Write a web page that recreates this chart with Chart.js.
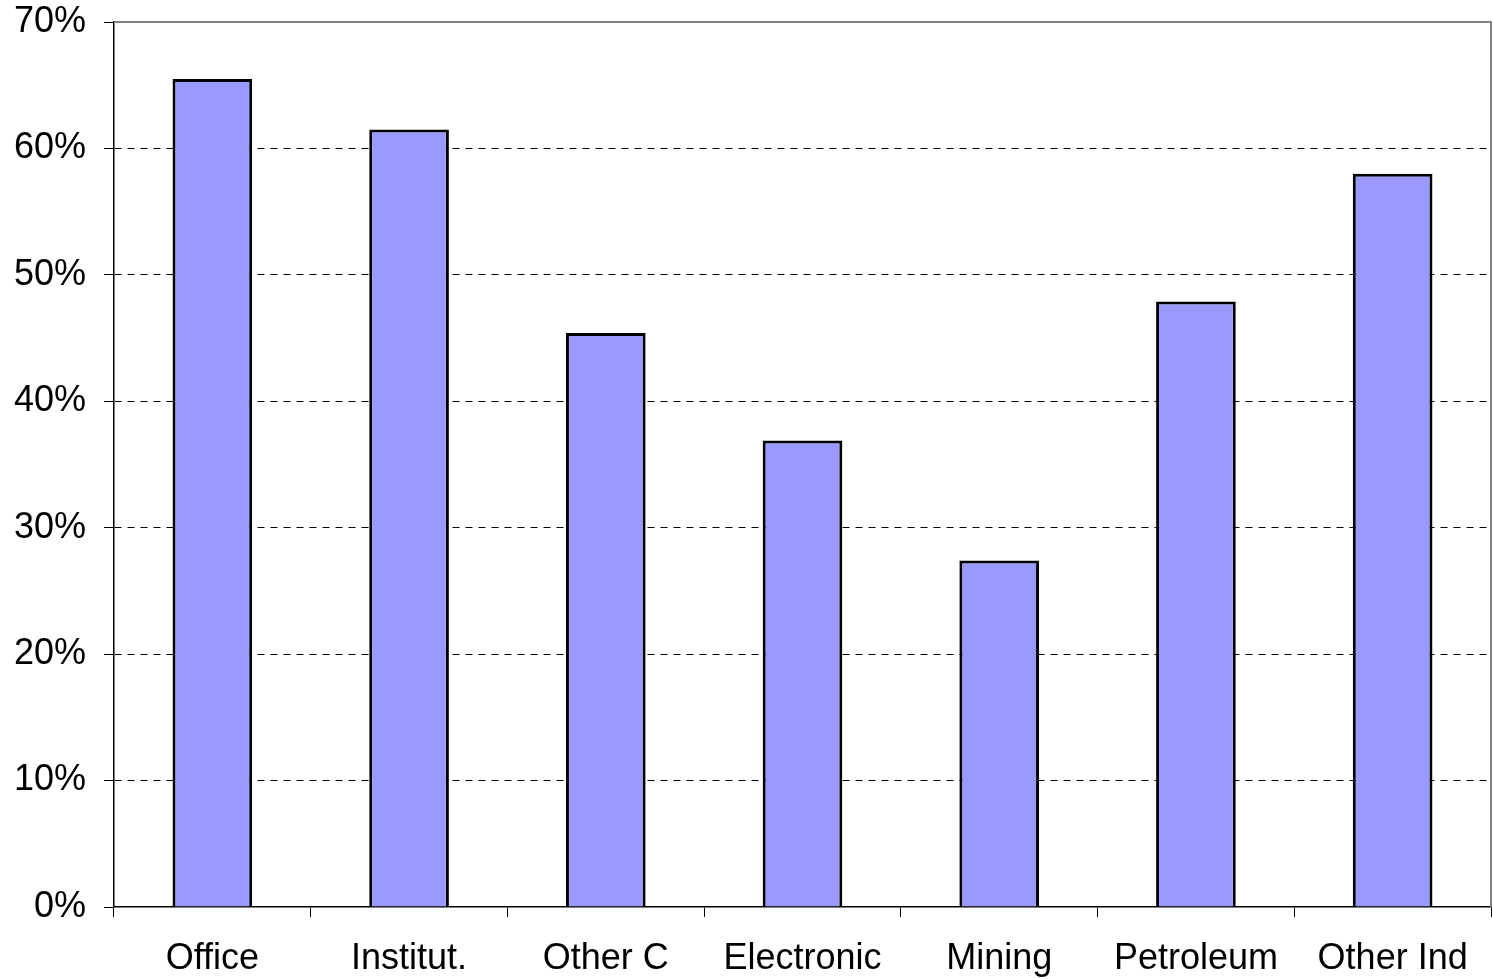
<!DOCTYPE html>
<html>
<head>
<meta charset="utf-8">
<style>
  html, body { margin: 0; padding: 0; background: #ffffff; }
  #wrap { width: 1493px; height: 979px; }
</style>
<script src="https://cdn.jsdelivr.net/npm/chart.js@4/dist/chart.umd.min.js"></script>
</head>
<body>
<div id="wrap"><canvas id="c" width="1493" height="979"></canvas></div>
<script>
const categories = ['Office', 'Institut.', 'Other C', 'Electronic', 'Mining', 'Petroleum', 'Other Ind'];
const shares = [65.5, 61.5, 45.4, 36.9, 27.4, 47.9, 58.0];
const yMin = 0, yMax = 70, yStep = 10;

// gray frame along the top and right of the plot area
const framePlugin = {
  id: 'frame',
  afterDraw(chart) {
    const { ctx, chartArea: a } = chart;
    ctx.save();
    ctx.strokeStyle = '#808080';
    ctx.lineWidth = 2;
    ctx.beginPath();
    ctx.moveTo(a.left, a.top);
    ctx.lineTo(a.right, a.top);
    ctx.lineTo(a.right, a.bottom);
    ctx.stroke();
    ctx.restore();
  }
};

new Chart(document.getElementById('c'), {
  type: 'bar',
  data: {
    labels: categories,
    datasets: [{
      data: shares,
      backgroundColor: '#9999FF',
      borderColor: '#000000',
      borderWidth: 3,
      barPercentage: 0.405,
      categoryPercentage: 1.0
    }]
  },
  options: {
    responsive: false,
    animation: false,
    layout: { padding: { top: 0, right: 2, left: 0, bottom: 0 } },
    plugins: { legend: { display: false }, tooltip: { enabled: false } },
    scales: {
      x: {
        offset: true,
        grid: {
          offset: true,
          drawOnChartArea: false,
          drawTicks: true,
          tickLength: 10,
          color: '#000000',
          lineWidth: 1
        },
        border: { display: true, color: '#000000', width: 1.5 },
        ticks: {
          color: '#000000',
          font: { family: 'Liberation Sans', size: 36 },
          padding: 20,
          maxRotation: 0,
          autoSkip: false
        },
        afterFit(scale) { scale.height = 72; }
      },
      y: {
        min: yMin,
        max: yMax,
        grid: {
          color: (c) => (c.tick.value === yMin || c.tick.value === yMax) ? 'rgba(0,0,0,0)' : '#000000',
          lineWidth: 1,
          drawTicks: true,
          tickLength: 10,
          tickColor: '#000000',
          tickBorderDash: []
        },
        border: { display: true, color: '#000000', width: 1.5, dash: [7, 6] },
        ticks: {
          stepSize: yStep,
          color: '#000000',
          font: { family: 'Liberation Sans', size: 36 },
          padding: 18,
          callback: (v) => v + '%'
        },
        afterFit(scale) {
          scale.width = 114;
          scale.paddingTop = 22;
        }
      }
    }
  },
  plugins: [framePlugin]
});
</script>
</body>
</html>
